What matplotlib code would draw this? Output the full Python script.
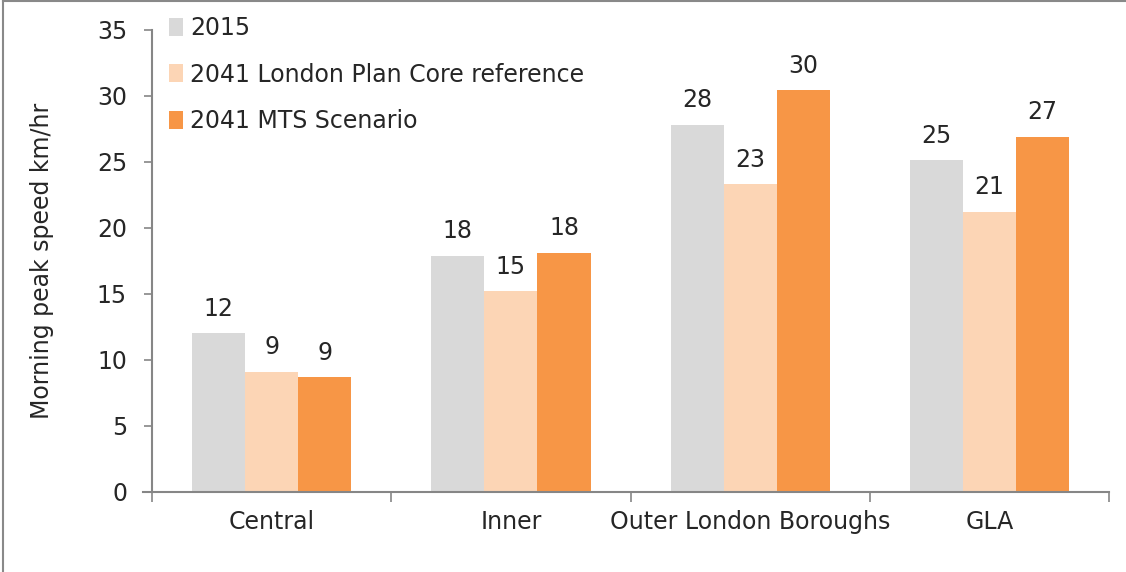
import matplotlib
matplotlib.use('Agg')
import matplotlib.pyplot as plt
import numpy as np
from matplotlib.lines import Line2D

# dados
categorias = ['Central', 'Inner', 'Outer London Boroughs', 'GLA']
series = ['2015', '2041 London Plan Core reference', '2041 MTS Scenario']
valores_2015 = [12.0, 17.9, 27.8, 25.1]
valores_ref = [9.1, 15.2, 23.3, 21.2]
valores_mts = [8.7, 18.1, 30.4, 26.9]
cores = ['#D9D9D9', '#FCD5B5', '#F79646']

texto = '#262626'
eixo = '#868686'
fs = 17
plt.rcParams['font.family'] = ['DejaVu Sans']
plt.rcParams['font.size'] = fs

fig = plt.figure(figsize=(11.26, 5.72), dpi=100)
ax = fig.add_axes([0.135, 0.140, 0.850, 0.808])

x = np.arange(len(categorias))
largura = 0.222
todos = [valores_2015, valores_ref, valores_mts]
for i, (vals, nome, cor) in enumerate(zip(todos, series, cores)):
    pos = x + (i - 1) * largura
    barras = ax.bar(pos, vals, largura, color=cor, label=nome, zorder=2)
    for b, v in zip(barras, vals):
        ax.annotate('%d' % round(v), (b.get_x() + b.get_width() / 2, v),
                    xytext=(0, 9), textcoords='offset points',
                    ha='center', va='bottom', color=texto, fontsize=fs)

ax.set_xlim(-0.5, len(categorias) - 0.5)
ax.set_ylim(0, 35)
ax.set_yticks(range(0, 36, 5))
ax.set_ylabel('Morning peak speed km/hr', color=texto, fontsize=fs, labelpad=31)

# ticks do eixo x nas divisas entre grupos
ax.set_xticks(np.arange(-0.5, len(categorias), 1.0))
ax.set_xticklabels([])
ax.set_xticks(x, minor=True)
ax.set_xticklabels(categorias, minor=True)
ax.tick_params(axis='x', which='major', length=7, width=1.2, color=eixo, direction='out')
ax.tick_params(axis='x', which='minor', length=0, pad=13, labelcolor=texto, labelsize=fs)
ax.tick_params(axis='y', length=6, width=1.2, color=eixo, labelcolor=texto, labelsize=fs, pad=12)

for s in ['top', 'right']:
    ax.spines[s].set_visible(False)
for s in ['left', 'bottom']:
    ax.spines[s].set_color(eixo)
    ax.spines[s].set_linewidth(1.5)
# o eixo x passa um pouco para a esquerda do eixo y
ax.spines['bottom'].set_bounds(-0.5 - 9 / 239, len(categorias) - 0.5)

leg = ax.legend(loc='upper left', bbox_to_anchor=(0.008, 1.05), frameon=False,
                handlelength=0.6, handleheight=0.8, handletextpad=0.3,
                labelspacing=0.95, fontsize=fs, borderaxespad=0)
for t in leg.get_texts():
    t.set_color(texto)

# moldura do grafico (esquerda e topo)
fig.add_artist(Line2D([0.003, 0.003], [0.0, 0.998], transform=fig.transFigure, color='#898989', lw=1.5))
fig.add_artist(Line2D([0.003, 1.0], [0.998, 0.998], transform=fig.transFigure, color='#898989', lw=1.5))

fig.savefig('out.png', dpi=100)
